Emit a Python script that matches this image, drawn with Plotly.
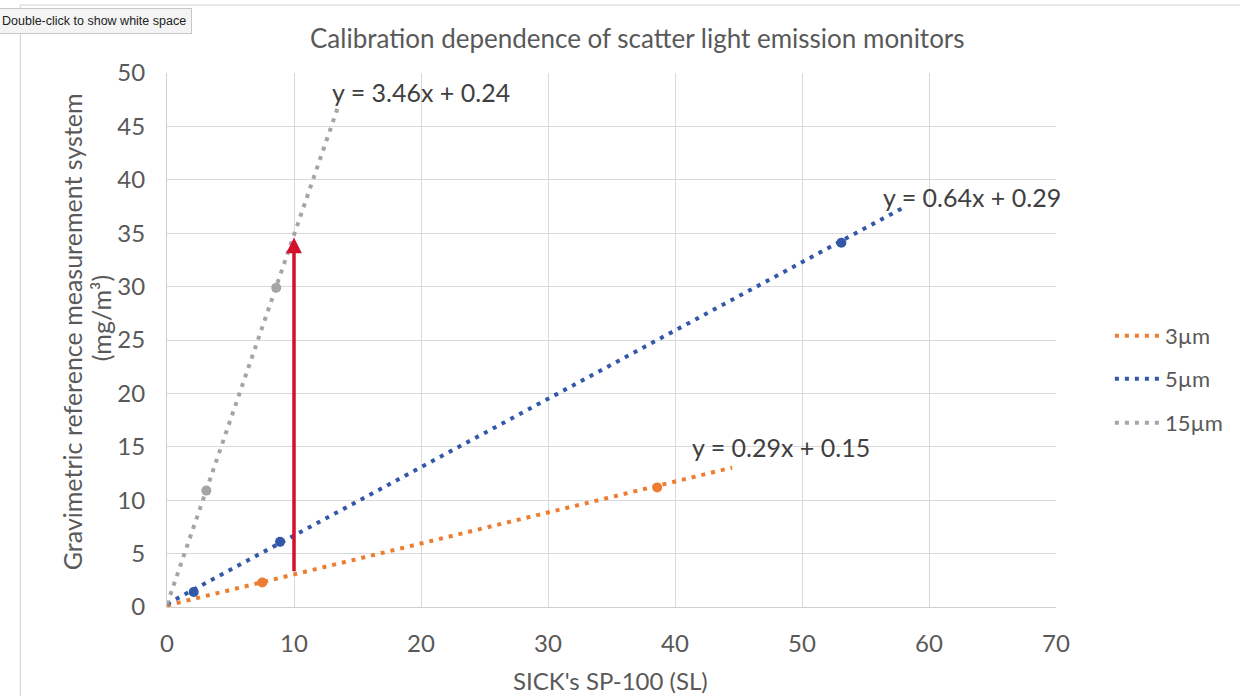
import plotly.graph_objects as go

# ---- data ----
series_names = ["3µm", "5µm", "15µm"]
x_3um = [7.5, 38.6]
y_3um = [2.3, 11.2]
x_5um = [2.1, 8.9, 53.1]
y_5um = [1.4, 6.1, 34.1]
x_15um = [3.1, 8.6]
y_15um = [10.9, 29.9]
slopes = [0.29, 0.64, 3.46]
intercepts = [0.15, 0.29, 0.24]
trend_x_end = [44.5, 58.0, 13.5]
equation_labels = ["y = 0.29x + 0.15", "y = 0.64x + 0.29", "y = 3.46x + 0.24"]
label_pos_x = [41.2, 56.2, 12.8]
label_pos_y = [15.0, 38.4, 48.2]
arrow_x = 10
arrow_y_start = 3.2
arrow_y_end = 34.6
x_ticks = [0, 10, 20, 30, 40, 50, 60, 70]
y_ticks = [0, 5, 10, 15, 20, 25, 30, 35, 40, 45, 50]

colors = ["#ED7D31", "#3358A8", "#A5A5A5"]
FONT = "Lato, Open Sans, sans-serif"
TXT = "#595959"

L, R, T, B = 167, 1058, 73, 607
W, H = R - L, B - T


def px(xp):
    return (xp - L) / W


def py(yp):
    return (B - yp) / H


xs = [x_3um, x_5um, x_15um]
ys = [y_3um, y_5um, y_15um]
legend_keys = ["legend", "legend2", "legend3"]
legend_y_px = [336, 379, 423]

fig = go.Figure()
for i, name in enumerate(series_names):
    tx = [0, trend_x_end[i]]
    ty = [slopes[i] * v + intercepts[i] for v in tx]
    fig.add_trace(go.Scatter(x=tx, y=ty, mode="lines", name=name,
                             line=dict(color=colors[i], width=4, dash="4px,6px"),
                             showlegend=True, legend=legend_keys[i]))
    fig.add_trace(go.Scatter(x=xs[i], y=ys[i], mode="markers", name=name,
                             marker=dict(color=colors[i], size=10),
                             showlegend=False))
    fig.add_annotation(x=label_pos_x[i], y=label_pos_y[i], text=equation_labels[i],
                       showarrow=False, xanchor="left", yanchor="middle",
                       font=dict(family=FONT, size=25, color="#404040"))

# red arrow
fig.add_annotation(x=arrow_x, y=arrow_y_end, ax=arrow_x, ay=arrow_y_start,
                   xref="x", yref="y", axref="x", ayref="y", text="",
                   showarrow=True, arrowhead=2, arrowsize=0.9, arrowwidth=3.5,
                   arrowcolor="#D4102A")

# title
fig.add_annotation(xref="paper", yref="paper", x=px(639), y=py(38),
                   text="Calibration dependence of scatter light emission monitors",
                   showarrow=False, xanchor="center", yanchor="middle",
                   font=dict(family=FONT, size=26, color=TXT))
# axis titles
fig.add_annotation(xref="paper", yref="paper", x=px(611), y=py(680),
                   text="SICK's SP-100 (SL)", showarrow=False,
                   xanchor="center", yanchor="middle",
                   font=dict(family=FONT, size=24, color=TXT))
fig.add_annotation(xref="paper", yref="paper", x=px(72), y=py(332),
                   text="Gravimetric reference measurement system", textangle=-90,
                   showarrow=False, xanchor="center", yanchor="middle",
                   font=dict(family=FONT, size=25, color=TXT))
fig.add_annotation(xref="paper", yref="paper", x=px(101), y=py(318),
                   text="(mg/m³)", textangle=-90,
                   showarrow=False, xanchor="center", yanchor="middle",
                   font=dict(family=FONT, size=25, color=TXT))

# "Double-click" tooltip
fig.add_annotation(xref="paper", yref="paper", x=px(-4), y=py(21),
                   text="Double-click to show white space", showarrow=False,
                   xanchor="left", yanchor="middle",
                   font=dict(family="Liberation Sans, Arial", size=12.5, color="#222"),
                   bgcolor="#f4f4f4", bordercolor="#c8c8c8", borderwidth=1, borderpad=5)

# chart outer border
fig.add_shape(type="rect", xref="paper", yref="paper",
              x0=px(20), y0=py(700), x1=px(1245), y1=py(5),
              line=dict(color="#d0d0d0", width=1), layer="below")

legend_common = dict(xanchor="left", yanchor="middle",
                     font=dict(family=FONT, size=22, color=TXT), itemwidth=45,
                     bgcolor="rgba(0,0,0,0)", borderwidth=0)

fig.update_layout(
    width=1240, height=696,
    margin=dict(l=L, r=1240 - R, t=T, b=696 - B),
    paper_bgcolor="white", plot_bgcolor="white",
    font=dict(family=FONT, color=TXT),
    showlegend=True,
    legend=dict(x=px(1112), y=py(legend_y_px[0]), **legend_common),
    legend2=dict(x=px(1112), y=py(legend_y_px[1]), **legend_common),
    legend3=dict(x=px(1112), y=py(legend_y_px[2]), **legend_common),
    xaxis=dict(range=[0, 70], tickvals=x_ticks, showgrid=True, gridcolor="#d9d9d9",
               gridwidth=1, showline=True, linecolor="#d0d0d0", zeroline=False,
               tickfont=dict(size=24, color=TXT), ticks="", ticklabelstandoff=15),
    yaxis=dict(range=[0, 50], tickvals=y_ticks, showgrid=True, gridcolor="#d9d9d9",
               gridwidth=1, showline=True, linecolor="#d0d0d0", zeroline=False,
               tickfont=dict(size=24, color=TXT), ticks="", ticklabelstandoff=16),
)

fig.write_html("out.html")
